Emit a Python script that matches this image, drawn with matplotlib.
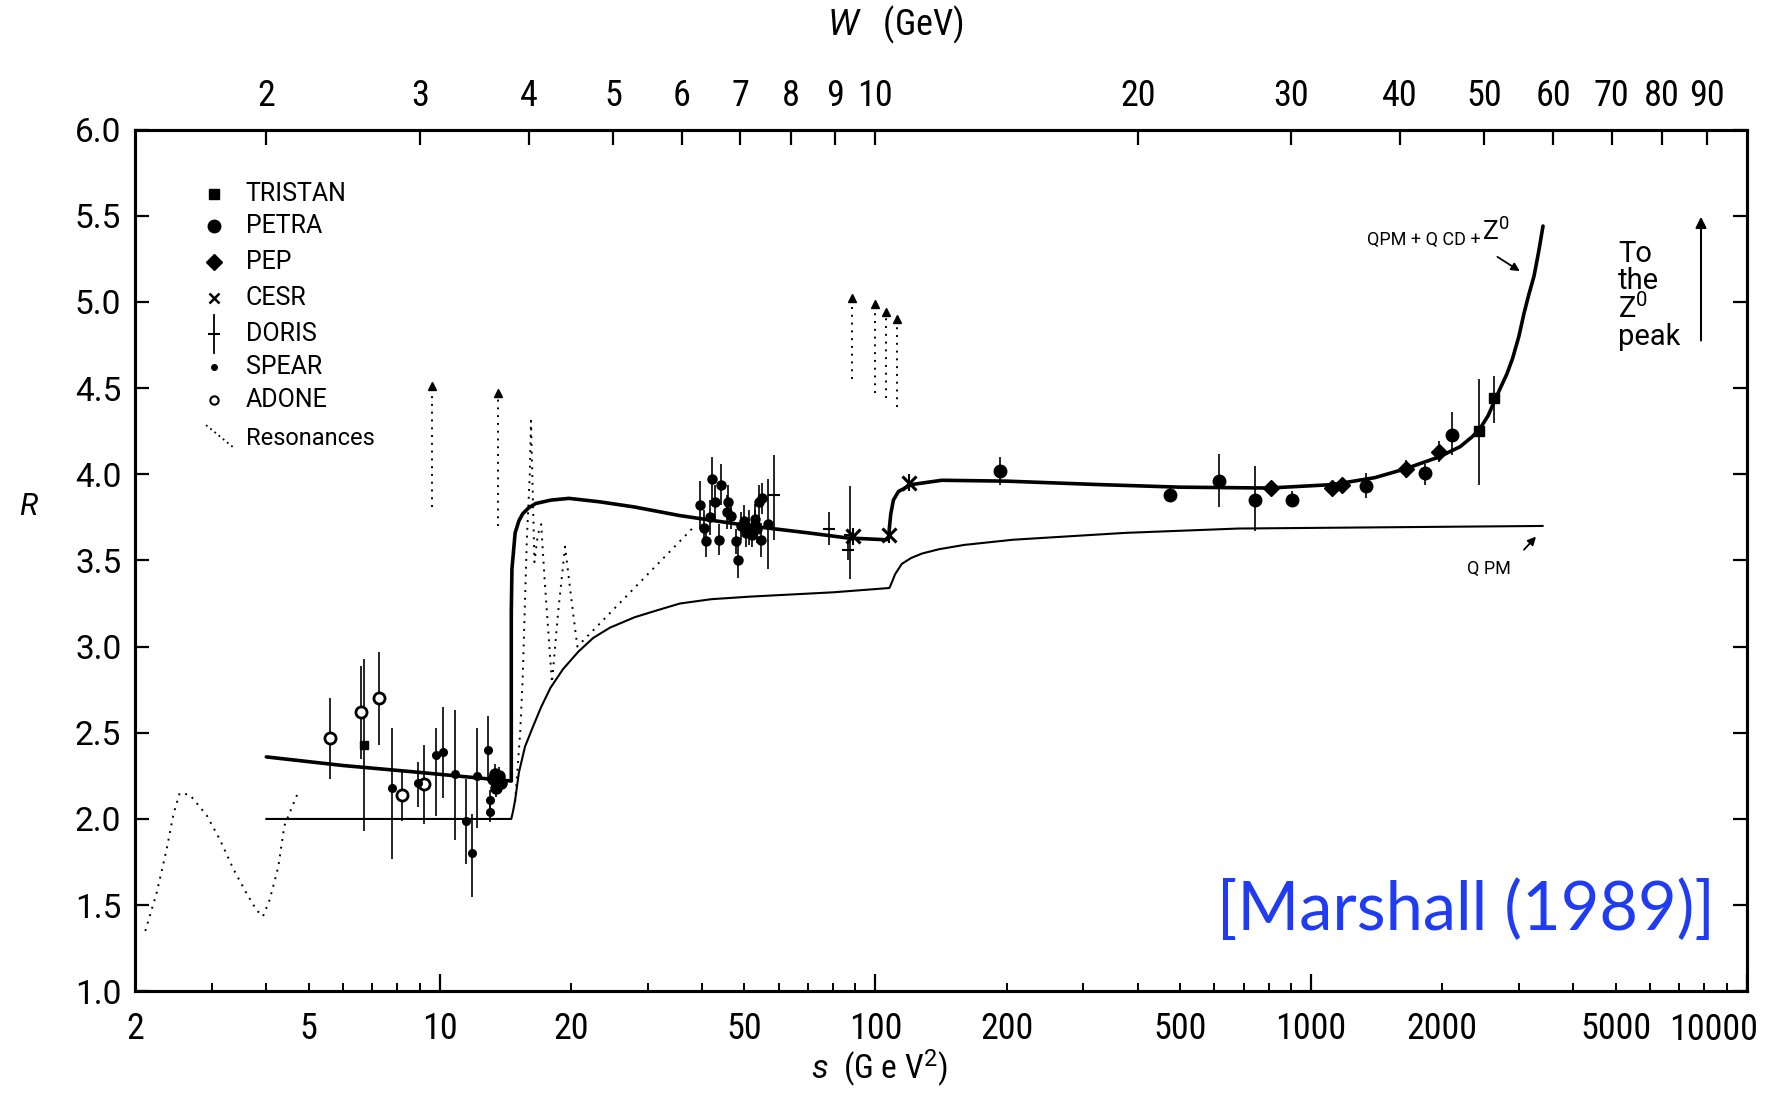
#!/usr/bin/env python3
"""R = sigma(ee->hadrons)/sigma(ee->mumu) vs s, after Marshall (1989)"""
import numpy as np
import matplotlib
matplotlib.use('Agg')
import matplotlib.pyplot as plt
from matplotlib import font_manager
from matplotlib.ticker import FixedLocator, FuncFormatter
from matplotlib.transforms import blended_transform_factory

# ---- theory curves (s in GeV^2, R) ----
qcd_s = [4.0, 6.0, 9.0, 12.0, 14.6, 14.6, 14.65, 14.9, 15.2, 15.5, 16.0, 16.6, 18.0, 19.8, 23.3,
         28, 35.6, 51.6, 70, 86.5, 106, 107.3, 107.8, 108.5, 110, 113, 121, 142, 200, 326, 500,
         800, 1122, 1400, 1640, 1966, 2200, 2350, 2450, 2550, 2632, 2720, 2814, 2900, 3000,
         3080, 3160, 3250, 3330, 3408]
qcd_r = [2.36, 2.31, 2.27, 2.24, 2.22, 3.2, 3.45, 3.66, 3.73, 3.77, 3.805, 3.83, 3.85, 3.86, 3.84,
         3.81, 3.76, 3.70, 3.66, 3.63, 3.62, 3.63, 3.70, 3.77, 3.85, 3.90, 3.94, 3.965, 3.96, 3.94,
         3.925, 3.92, 3.94, 3.98, 4.03, 4.10, 4.16, 4.22, 4.27, 4.34, 4.42, 4.50, 4.58, 4.67, 4.80,
         4.93, 5.04, 5.15, 5.29, 5.44]

qpm_s = [4.0, 14.6, 14.75, 14.9, 15.2, 15.7, 16.4, 17.1, 17.95, 19.2, 20.8, 22.5, 24.6, 28,
         31.5, 35.6, 42, 51.6, 80, 107.7, 109, 111, 115, 121, 128, 140, 160, 207, 300, 376,
         681, 3400]
qpm_r = [2.0, 2.0, 2.05, 2.11, 2.27, 2.42, 2.54, 2.65, 2.76, 2.87, 2.97, 3.05, 3.11, 3.17,
         3.21, 3.25, 3.275, 3.29, 3.315, 3.34, 3.37, 3.42, 3.48, 3.515, 3.54, 3.565, 3.59, 3.62,
         3.645, 3.66, 3.685, 3.70]

# ---- resonances (dotted) ----
res_low_s = [2.11, 2.24, 2.36, 2.45, 2.53, 2.67, 2.92, 3.13, 3.36, 3.60, 3.80, 3.93, 4.07, 4.26, 4.40, 4.76]
res_low_r = [1.35, 1.57, 1.82, 2.03, 2.15, 2.14, 2.02, 1.88, 1.71, 1.57, 1.47, 1.435, 1.53, 1.72, 1.96, 2.17]

res_charm_s = [14.9, 15.3, 15.5, 15.85, 16.1, 16.2, 16.35, 16.5, 16.8, 17.1, 17.4, 18.1, 18.7,
               19.4, 20.0, 20.7, 38.5]
res_charm_r = [2.10, 2.50, 2.80, 3.62, 4.00, 4.31, 3.90, 3.49, 3.65, 3.71, 3.40, 2.79, 3.20,
               3.58, 3.30, 3.00, 3.70]

# narrow resonances: J/psi, psi', Upsilon(1S..4S)
narrow_s = [9.6, 13.6, 88.5, 100, 106, 112]
narrow_lo = [3.81, 3.70, 4.55, 4.47, 4.44, 4.39]
narrow_hi = [4.51, 4.47, 5.02, 4.99, 4.94, 4.90]

# ---- data points ----
adone_s = [5.59, 6.59, 7.24, 8.19, 9.19]
adone_r = [2.47, 2.62, 2.70, 2.14, 2.20]
adone_lo = [2.23, 2.35, 2.43, 1.99, 1.97]
adone_hi = [2.70, 2.89, 2.97, 2.29, 2.43]

spear_s = [7.77, 8.92, 9.83, 10.18, 10.87, 11.5, 11.88, 12.19, 12.9, 13.06, 13.03]
spear_r = [2.18, 2.21, 2.37, 2.39, 2.26, 1.99, 1.80, 2.25, 2.40, 2.11, 2.04]
spear_lo = [1.77, 2.07, 2.02, 2.12, 1.88, 1.74, 1.55, 1.95, 2.22, 2.03, 1.98]
spear_hi = [2.53, 2.33, 2.53, 2.65, 2.63, 2.23, 2.03, 2.53, 2.60, 2.17, 2.10]

lowsq_s = [6.71]
lowsq_r = [2.43]
lowsq_lo = [1.93]
lowsq_hi = [2.93]

blob_s = [13.25, 13.4, 13.55, 13.7, 13.85, 13.5]
blob_r = [2.23, 2.26, 2.22, 2.25, 2.21, 2.18]
blob_err = [0.05, 0.06, 0.05, 0.05, 0.04, 0.05]

mid_s = [39.6, 42.1, 44.2, 42.9, 41.7, 40.5, 40.9, 43.8, 46.0, 45.6, 46.6, 47.9, 48.5, 50.0,
         51.4, 52.8, 54.1, 54.9, 53.6, 54.5, 56.8, 49.2, 50.6, 52.0, 53.0]
mid_r = [3.82, 3.97, 3.94, 3.84, 3.75, 3.69, 3.61, 3.62, 3.84, 3.78, 3.76, 3.61, 3.50, 3.73,
         3.69, 3.74, 3.84, 3.86, 3.68, 3.62, 3.71, 3.70, 3.66, 3.65, 3.71]
mid_err = [0.14, 0.13, 0.12, 0.10, 0.10, 0.10, 0.09, 0.09, 0.10, 0.10, 0.08, 0.07, 0.10, 0.09,
           0.10, 0.09, 0.10, 0.09, 0.08, 0.10, 0.26, 0.08, 0.08, 0.07, 0.08]

doris_s = [58.6, 78.3, 87.6, 86.5]
doris_r = [3.88, 3.68, 3.65, 3.56]
doris_lo = [3.62, 3.59, 3.39, 3.50]
doris_hi = [4.11, 3.78, 3.93, 3.62]

cesr_s = [88.8, 107.7, 119.6]
cesr_r = [3.64, 3.65, 3.95]

petra_s = [193, 475, 614, 745, 906, 1336, 1824, 2103]
petra_r = [4.02, 3.88, 3.96, 3.85, 3.85, 3.93, 4.01, 4.23]
petra_lo = [3.94, 3.84, 3.81, 3.67, 3.81, 3.86, 3.94, 4.11]
petra_hi = [4.10, 3.93, 4.12, 4.05, 3.90, 4.01, 4.06, 4.36]

pep_s = [810, 1115, 1178, 1649, 1966]
pep_r = [3.92, 3.92, 3.94, 4.03, 4.13]
pep_lo = [3.89, 3.88, 3.90, 3.98, 4.07]
pep_hi = [3.95, 3.96, 3.98, 4.08, 4.19]

tristan_s = [2434, 2632]
tristan_r = [4.25, 4.44]
tristan_lo = [3.94, 4.30]
tristan_hi = [4.55, 4.57]

# axis ticks
y_ticks = np.arange(1.0, 6.01, 0.5)
s_decades = [10, 100, 1000, 10000]
s_labelled = [2, 5, 20, 50, 200, 500, 2000, 5000]
w_ticks = [2, 3, 4, 5, 6, 7, 8, 9, 10, 20, 30, 40, 50, 60, 70, 80, 90]

legend_names = ['TRISTAN', 'PETRA', 'PEP', 'CESR', 'DORIS', 'SPEAR', 'ADONE', 'Resonances']

# ---- fonts ----
plt.rcParams['font.family'] = 'Roboto'
plt.rcParams['mathtext.fontset'] = 'custom'
plt.rcParams['mathtext.rm'] = 'Roboto'
plt.rcParams['mathtext.it'] = 'Roboto:italic'
installed = {f.name for f in font_manager.fontManager.ttflist}
narrow = next((f for f in ['Liberation Sans Narrow', 'Roboto Condensed'] if f in installed), 'Roboto')
narrow_size = 26 if narrow != 'Roboto' else 21

fig = plt.figure(figsize=(17.67, 10.95), dpi=100)
ax = fig.add_axes([0.0765, 0.0947, 0.9120, 0.7870])

ax.set_xscale('log')
ax.set_xlim(2, 10000)
ax.set_ylim(1, 6)

# curves
ax.plot(qcd_s, qcd_r, color='black', lw=2.6, solid_capstyle='round', solid_joinstyle='round', zorder=3)
ax.plot(qpm_s, qpm_r, color='black', lw=1.5, solid_joinstyle='round', zorder=3)
ax.plot(res_low_s, res_low_r, color='black', lw=1.4, ls=(0, (1, 3)), zorder=2)
ax.plot(res_charm_s, res_charm_r, color='black', lw=1.4, ls=(0, (1, 3)), zorder=2)
ax.vlines(narrow_s, narrow_lo, narrow_hi, colors='black', lw=1.4, linestyles=(0, (1, 3)))
ax.plot(narrow_s, narrow_hi, ls='none', marker='^', ms=6, color='black')


def draw(s, r, lo, hi, **kw):
    r = np.asarray(r)
    yerr = [r - np.asarray(lo), np.asarray(hi) - r]
    ax.errorbar(s, r, yerr=yerr, ecolor='black', elinewidth=1.2, capsize=0,
                linestyle='none', color='black', zorder=4, **kw)


draw(adone_s, adone_r, adone_lo, adone_hi, marker='o', ms=8, mfc='white', mew=2)
draw(spear_s, spear_r, spear_lo, spear_hi, marker='o', ms=5.5)
draw(lowsq_s, lowsq_r, lowsq_lo, lowsq_hi, marker='s', ms=6)
ax.errorbar(blob_s, blob_r, yerr=blob_err, fmt='o', ms=8, color='black', elinewidth=1.2, zorder=4)
ax.errorbar(mid_s, mid_r, yerr=mid_err, fmt='o', ms=6.5, color='black', elinewidth=1.2, zorder=4)
draw(doris_s, doris_r, doris_lo, doris_hi, marker='_', ms=9, mew=1.5)
ax.errorbar(cesr_s, cesr_r, yerr=0.05, fmt='x', ms=10, mew=2.2, color='black', elinewidth=1.5, zorder=4)
draw(petra_s, petra_r, petra_lo, petra_hi, marker='o', ms=9)
draw(pep_s, pep_r, pep_lo, pep_hi, marker='D', ms=8)
draw(tristan_s, tristan_r, tristan_lo, tristan_hi, marker='s', ms=7)

# ---- annotations ----
ax.text(2449, 5.36, 'QPM + Q CD +', fontsize=13, ha='right', va='center')
ax.text(2470, 5.41, 'Z$^0$', fontsize=19, ha='left', va='center')
ax.annotate('', xy=(3052, 5.17), xytext=(2645, 5.27),
            arrowprops=dict(arrowstyle='-|>', color='black', lw=1.3, mutation_scale=12))
ax.text(2567, 3.45, 'Q PM', fontsize=13, ha='center', va='center')
ax.annotate('', xy=(3317, 3.65), xytext=(3052, 3.55),
            arrowprops=dict(arrowstyle='-|>', color='black', lw=1.3, mutation_scale=12))
ax.text(5059, 5.36, 'To\nthe\nZ$^0$\npeak', fontsize=21, ha='left', va='top', linespacing=0.95)
ax.annotate('', xy=(7855, 5.51), xytext=(7855, 4.76),
            arrowprops=dict(arrowstyle='-|>', color='black', lw=1.5, mutation_scale=16))

ax.text(0.98, 0.094, '[Marshall (1989)]', transform=ax.transAxes, ha='right', va='center',
        fontsize=48, color='#1f3cf2', family='Lato')

# ---- legend (hand drawn like the original) ----
rows = [0.925, 0.888, 0.846, 0.804, 0.763, 0.725, 0.686, 0.641]
mx, tx = 0.049, 0.0685
styles = [dict(marker='s', ms=7), dict(marker='o', ms=9), dict(marker='D', ms=8),
          dict(marker='x', ms=7, mew=1.8), dict(marker='_', ms=8, mew=1.5),
          dict(marker='o', ms=4), dict(marker='o', ms=6, mfc='white', mew=1.5)]
for y, st in zip(rows[:7], styles):
    ax.plot([mx], [y], transform=ax.transAxes, color='black', ls='none', clip_on=False, **st)
ax.plot([mx, mx], [rows[4] - 0.022, rows[4] + 0.022], transform=ax.transAxes, color='black', lw=1.3)
ax.plot([0.044, 0.061], [0.657, 0.631], transform=ax.transAxes, color='black', lw=1.3, ls=(0, (1, 2)))
for y, name in zip(rows, legend_names):
    ax.text(tx, y, name, transform=ax.transAxes, fontsize=18 if name != 'Resonances' else 17,
            ha='left', va='center')

# ---- axes styling ----
for sp in ax.spines.values():
    sp.set_linewidth(2.2)

ax.set_yticks(y_ticks)
ax.set_yticklabels([f'{v:.1f}' for v in y_ticks])
ax.tick_params(axis='y', which='major', direction='in', length=10, width=1.6,
               labelsize=24, pad=10, right=True)

minor_s = [m * 10 ** k for k in range(4) for m in range(2, 10) if 2 <= m * 10 ** k <= 10000]
ax.xaxis.set_major_locator(FixedLocator(s_decades))
ax.xaxis.set_minor_locator(FixedLocator(minor_s))
ax.xaxis.set_major_formatter(FuncFormatter(lambda v, p: '' if v >= 10000 else f'{v:g}'))
ax.xaxis.set_minor_formatter(FuncFormatter(
    lambda v, p: f'{int(round(v))}' if int(round(v)) in s_labelled else ''))
ax.tick_params(axis='x', which='major', direction='in', length=12, width=1.6, pad=14, top=False)
ax.tick_params(axis='x', which='minor', direction='in', length=6, width=1.4, pad=14, top=False)
for lab in ax.get_xticklabels(which='both'):
    lab.set_family(narrow)
    lab.set_fontsize(narrow_size)
ax.tick_params(axis='x', which='both', labelsize=narrow_size)
trans = blended_transform_factory(ax.transData, ax.transAxes)
ax.text(10640, -0.0235, '10000', transform=trans, ha='right', va='top',
        family=narrow, fontsize=narrow_size, clip_on=False)

top = ax.twiny()
top.set_xscale('log')
top.set_xlim(ax.get_xlim())
top.set_xticks([w * w for w in w_ticks], labels=[str(w) for w in w_ticks])
top.minorticks_off()
top.tick_params(axis='x', direction='in', length=11, width=1.6, pad=11, labelsize=narrow_size)
for lab in top.get_xticklabels():
    lab.set_family(narrow)
for sp in top.spines.values():
    sp.set_linewidth(2.2)

# axis titles
ax.text(0.4615, -0.090, r'$s$  (G e V$^2$)', transform=ax.transAxes, ha='center', va='center',
        family=narrow, fontsize=narrow_size - 2)
ax.text(0.472, 1.1216, r'$W$   (GeV)', transform=ax.transAxes, ha='center', va='center',
        family=narrow, fontsize=narrow_size)
ax.text(-0.066, 0.562, r'$R$', transform=ax.transAxes, ha='center', va='center', fontsize=22)

fig.savefig('out.png', dpi=100)
